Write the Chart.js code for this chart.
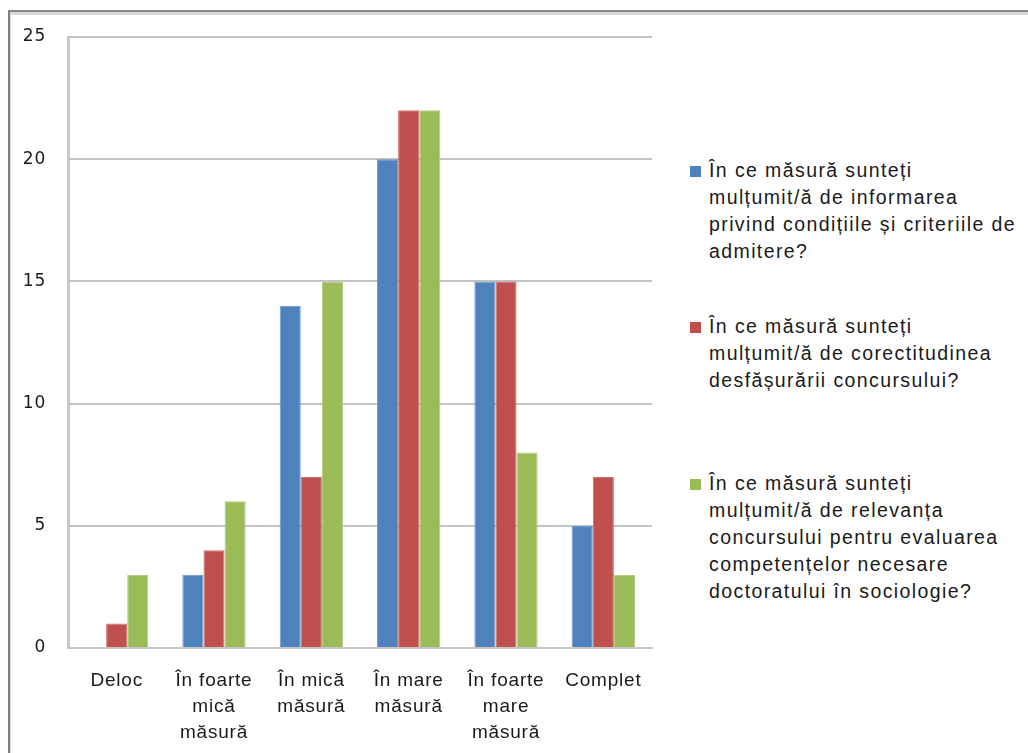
<!DOCTYPE html>
<html>
<head>
<meta charset="utf-8">
<script src="https://cdn.jsdelivr.net/npm/chart.js@4/dist/chart.umd.min.js"></script>
<style>
  html, body { margin: 0; padding: 0; background: #fff; }
  body { width: 1028px; height: 753px; position: relative; overflow: hidden; font-family: "Liberation Sans", Arial, sans-serif; }
  #frame { position: absolute; left: 8px; top: 10px; width: 1040px; height: 760px;
           border-left: 2px solid #808080; border-top: 2px solid #8a8a8a;
           box-shadow: inset 1px 3px 0 #dadada; }
  #wrap { position: absolute; left: 0; top: 0; width: 660px; height: 753px; }
  #legend { position: absolute; left: 690px; top: 0; }
  .item { position: absolute; left: 0; width: 340px; }
  .sw { position: absolute; left: 0; width: 11px; height: 11px; }
  .txt { position: absolute; left: 19px; font-size: 19.5px; line-height: 27px; letter-spacing: 1.4px; color: #1a1a1a; white-space: nowrap; }
</style>
</head>
<body>
<div id="frame"></div>
<div id="wrap"><canvas id="chart" width="660" height="753"></canvas></div>
<div id="legend"></div>
<script>
// ==================== DATA ====================
const categories = [
  ['Deloc'],
  ['În foarte', 'mică', 'măsură'],
  ['În mică', 'măsură'],
  ['În mare', 'măsură'],
  ['În foarte', 'mare', 'măsură'],
  ['Complet']
];
const informareValues = [0, 3, 14, 20, 15, 5];
const corectitudineValues = [1, 4, 7, 22, 15, 7];
const relevantaValues = [3, 6, 15, 22, 8, 3];
const yTicks = [0, 5, 10, 15, 20, 25];

const seriesLabels = [
  ['În ce măsură sunteți', 'mulțumit/ă  de informarea', 'privind condițiile și criteriile de', 'admitere?'],
  ['În ce măsură sunteți', 'mulțumit/ă  de corectitudinea', 'desfășurării concursului?'],
  ['În ce măsură sunteți', 'mulțumit/ă  de relevanța', 'concursului pentru evaluarea', 'competențelor necesare', 'doctoratului în sociologie?']
];
const seriesColors = ['#4f81bd', '#c0504d', '#9bbb59'];
const seriesBorders = ['#6d97c9', '#cc6e6b', '#afc97a'];

// ==================== CHART ====================
const seriesValues = [informareValues, corectitudineValues, relevantaValues];

// wider letter spacing for the axis text, like the original
const spacingPlugin = {
  id: 'spacing',
  beforeDraw: c => { c.ctx.letterSpacing = '0.8px'; },
  afterDraw: c => { c.ctx.letterSpacing = '0px'; }
};

new Chart(document.getElementById('chart'), {
  type: 'bar',
  data: {
    labels: categories,
    datasets: seriesValues.map((vals, i) => ({
      label: seriesLabels[i].join(' '),
      data: vals,
      backgroundColor: seriesColors[i],
      borderColor: seriesBorders[i],
      borderWidth: { left: 1, right: 1, top: 1, bottom: 0 },
      barPercentage: 1.0,
      categoryPercentage: 0.65
    }))
  },
  options: {
    responsive: false,
    animation: false,
    layout: { padding: { left: 0, right: 8, top: 37, bottom: 0 } },
    plugins: { legend: { display: false }, tooltip: { enabled: false } },
    scales: {
      x: {
        grid: { display: false },
        border: { color: '#c6c6c6', width: 2 },
        ticks: {
          color: '#1a1a1a',
          font: { family: '"Liberation Sans", Arial, sans-serif', size: 19, lineHeight: 1.37 },
          padding: 12,
          maxRotation: 0,
          autoSkip: false
        },
        afterFit: s => { s.height = 105; }
      },
      y: {
        min: 0,
        max: 25,
        afterBuildTicks: s => { s.ticks = yTicks.map(v => ({ value: v })); },
        grid: { color: '#c4c4c4', lineWidth: 2, drawTicks: false },
        border: { color: '#c8c8c8', width: 3 },
        ticks: {
          color: '#1a1a1a',
          font: { family: '"DejaVu Sans", Verdana, sans-serif', size: 17 },
          padding: 22
        },
        afterFit: s => { s.width = 68; }
      }
    }
  },
  plugins: [spacingPlugin]
});

// ==================== LEGEND (HTML) ====================
const legendTops = [157, 313, 470];
const legend = document.getElementById('legend');
seriesLabels.forEach((lines, i) => {
  const item = document.createElement('div');
  item.className = 'item';
  item.style.top = legendTops[i] + 'px';
  const sw = document.createElement('div');
  sw.className = 'sw';
  sw.style.top = '9px';
  sw.style.background = seriesColors[i];
  const txt = document.createElement('div');
  txt.className = 'txt';
  txt.innerHTML = lines.join('<br>');
  item.appendChild(sw);
  item.appendChild(txt);
  legend.appendChild(item);
});
</script>
</body>
</html>
